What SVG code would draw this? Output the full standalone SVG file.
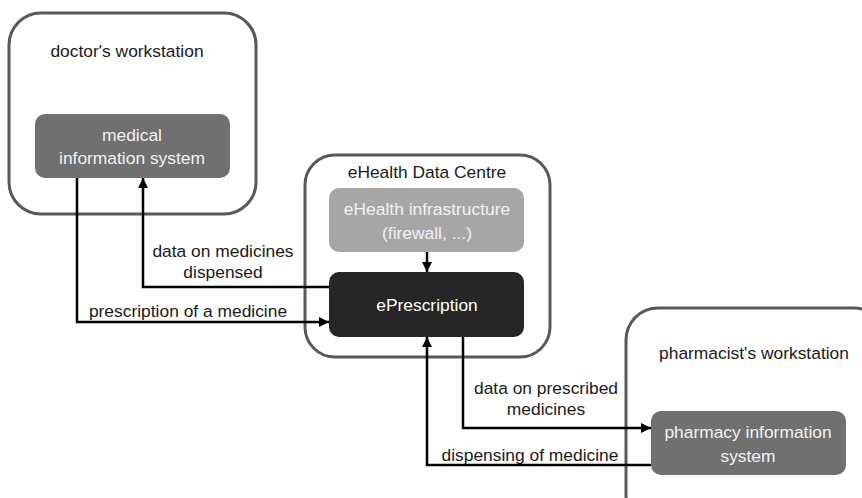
<svg xmlns="http://www.w3.org/2000/svg" width="862" height="498" viewBox="0 0 862 498">
<defs>
<style>
.ws{fill:#ffffff;stroke:#595959;stroke-width:3}
.t{font-family:"Liberation Sans",Arial,sans-serif;font-size:17.4px;fill:#1a1a1a;text-anchor:middle}
.w{fill:#f2f2f2}
.c{fill:none;stroke:#000;stroke-width:2.5}
</style>
<marker id="ah" viewBox="0 0 10 10" refX="10" refY="5" markerWidth="10" markerHeight="10" markerUnits="userSpaceOnUse" orient="auto">
<path d="M0,0 L10,5 L0,10 Z" fill="#000"/>
</marker>
</defs>
<rect width="862" height="498" fill="#ffffff"/>
<g id="doctor">
<rect class="ws" x="9" y="13" width="247" height="201" rx="32"/>
<text class="t" x="127" y="57">doctor's workstation</text>
</g>
<g id="medical">
<rect x="35" y="114" width="195" height="64" rx="10" fill="#707070"/>
<text class="t w" x="132" y="141">medical</text>
<text class="t w" x="132" y="164">information system</text>
</g>
<g id="datacentre">
<rect class="ws" x="305" y="155" width="245" height="202" rx="30"/>
<text class="t" x="427" y="178">eHealth Data Centre</text>
</g>
<g id="infra">
<rect x="329" y="188" width="195" height="64" rx="10" fill="#a6a6a6"/>
<text class="t w" x="427" y="215">eHealth infrastructure</text>
<text class="t w" x="427" y="239">(firewall, ...)</text>
</g>
<g id="eprescription">
<rect x="329" y="272" width="195" height="65" rx="10" fill="#262626"/>
<text class="t" x="427" y="311" style="fill:#ffffff">ePrescription</text>
</g>
<g id="pharmacist">
<rect class="ws" x="626" y="308" width="260" height="220" rx="32"/>
<text class="t" x="754" y="359">pharmacist's workstation</text>
</g>
<g id="pharmacy">
<rect x="651" y="411" width="195" height="64" rx="10" fill="#707070"/>
<text class="t w" x="748" y="438">pharmacy information</text>
<text class="t w" x="748" y="462">system</text>
</g>
<g id="connectors">
<polyline class="c" points="77,178 77,322 329,322" marker-end="url(#ah)"/>
<polyline class="c" points="329,287 143,287 143,178" marker-end="url(#ah)"/>
<line class="c" x1="427" y1="252" x2="427" y2="272" marker-end="url(#ah)"/>
<polyline class="c" points="463,337 463,428 651,428" marker-end="url(#ah)"/>
<polyline class="c" points="651,465 427,465 427,337" marker-end="url(#ah)"/>
<text class="t" x="188" y="317">prescription of a medicine</text>
<text class="t" x="223" y="257">data on medicines</text>
<text class="t" x="223" y="278">dispensed</text>
<text class="t" x="546" y="394">data on prescribed</text>
<text class="t" x="546" y="415">medicines</text>
<text class="t" x="530" y="461">dispensing of medicine</text>
</g>
</svg>
